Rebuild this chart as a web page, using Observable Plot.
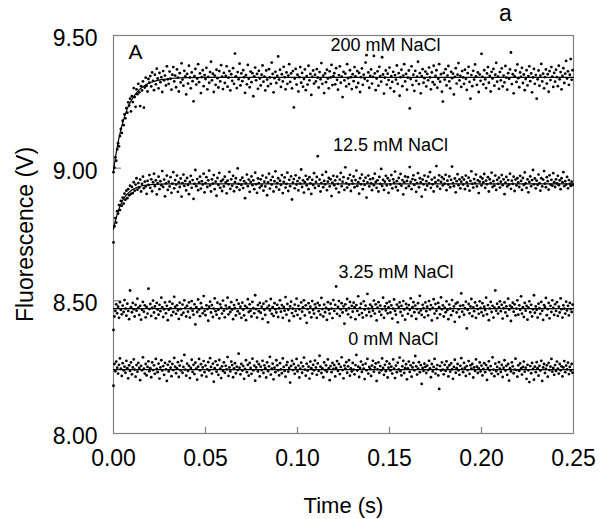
<!DOCTYPE html>
<html>
<head>
<meta charset="utf-8">
<script src="https://cdn.jsdelivr.net/npm/d3@7"></script>
<script src="https://cdn.jsdelivr.net/npm/@observablehq/plot@0.6"></script>
<style>
  html, body { margin: 0; padding: 0; background: #fff; }
  #chart svg { display: block; overflow: visible; }
</style>
</head>
<body>
<div id="chart"></div>
<script>
// ---- data ----
const dt = 0.0005; // sampling interval (s)

const nacl0 = [
8.180,8.262,8.235,8.271,8.248,8.226,8.259,8.283,8.244,8.217,8.265,8.238,8.252,8.229,8.274,8.246,8.208,8.257,8.236,8.268,
8.223,8.249,8.279,8.241,8.214,8.258,8.233,8.266,8.247,8.201,8.255,8.238,8.287,8.244,8.226,8.262,8.219,8.251,8.272,8.235,
8.246,8.212,8.268,8.239,8.257,8.225,8.281,8.243,8.231,8.263,8.207,8.249,8.276,8.237,8.254,8.221,8.266,8.242,8.198,8.259,
8.234,8.271,8.248,8.216,8.262,8.239,8.285,8.252,8.227,8.245,8.269,8.213,8.256,8.238,8.274,8.229,8.251,8.296,8.241,8.218,
8.263,8.236,8.255,8.209,8.247,8.278,8.232,8.259,8.224,8.267,8.244,8.203,8.252,8.281,8.238,8.261,8.219,8.249,8.273,8.231,
8.256,8.214,8.242,8.269,8.237,8.284,8.251,8.226,8.263,8.195,8.246,8.272,8.233,8.258,8.221,8.277,8.244,8.209,8.253,8.236,
8.268,8.229,8.255,8.242,8.288,8.217,8.249,8.234,8.271,8.258,8.212,8.245,8.265,8.227,8.252,8.239,8.301,8.248,8.223,8.262,
8.237,8.254,8.206,8.243,8.276,8.231,8.259,8.218,8.266,8.247,8.225,8.282,8.238,8.256,8.199,8.249,8.271,8.234,8.261,8.215,
8.252,8.239,8.274,8.228,8.257,8.246,8.211,8.268,8.235,8.253,8.289,8.222,8.244,8.263,8.204,8.248,8.231,8.276,8.257,8.238,
8.219,8.265,8.242,8.227,8.283,8.251,8.236,8.214,8.258,8.269,8.233,8.247,8.192,8.255,8.274,8.239,8.262,8.225,8.248,8.281,
8.234,8.256,8.211,8.244,8.267,8.229,8.253,8.286,8.241,8.218,8.263,8.237,8.252,8.207,8.271,8.246,8.226,8.259,8.238,8.275,
8.249,8.221,8.264,8.236,8.293,8.252,8.228,8.245,8.212,8.268,8.239,8.257,8.233,8.279,8.246,8.201,8.254,8.231,8.266,8.243,
8.258,8.215,8.247,8.273,8.236,8.262,8.224,8.251,8.287,8.239,8.208,8.256,8.244,8.269,8.229,8.253,8.276,8.218,8.245,8.234,
8.266,8.241,8.223,8.258,8.296,8.237,8.252,8.213,8.247,8.271,8.232,8.259,8.244,8.205,8.263,8.238,8.281,8.226,8.251,8.243,
8.217,8.256,8.274,8.233,8.249,8.264,8.198,8.242,8.268,8.229,8.254,8.238,8.283,8.247,8.221,8.259,8.235,8.272,8.211,8.248,
8.263,8.237,8.252,8.226,8.279,8.244,8.209,8.256,8.231,8.267,8.242,8.286,8.235,8.219,8.253,8.274,8.228,8.246,8.261,8.204,
8.245,8.271,8.232,8.257,8.214,8.249,8.266,8.238,8.292,8.253,8.222,8.244,8.269,8.231,8.258,8.187,8.247,8.236,8.263,8.251,
8.228,8.256,8.239,8.274,8.245,8.212,8.262,8.234,8.251,8.281,8.226,8.243,8.258,8.219,8.168,8.254,8.237,8.268,8.241,8.223,
8.259,8.236,8.272,8.248,8.215,8.257,8.233,8.264,8.242,8.206,8.251,8.278,8.229,8.246,8.262,8.238,8.221,8.255,8.284,8.243,
8.231,8.266,8.248,8.217,8.254,8.239,8.273,8.225,8.257,8.244,8.262,8.211,8.249,8.236,8.279,8.252,8.228,8.245,8.268,8.234,
8.256,8.219,8.243,8.265,8.231,8.258,8.202,8.247,8.272,8.238,8.254,8.226,8.287,8.241,8.216,8.263,8.235,8.251,8.224,8.269,
8.244,8.232,8.259,8.213,8.248,8.276,8.237,8.255,8.221,8.262,8.199,8.246,8.234,8.268,8.253,8.227,8.241,8.282,8.239,8.214,
8.257,8.236,8.264,8.245,8.222,8.251,8.271,8.233,8.248,8.206,8.259,8.238,8.194,8.254,8.227,8.266,8.243,8.203,8.252,8.231,
8.269,8.246,8.218,8.255,8.237,8.274,8.198,8.249,8.262,8.228,8.243,8.257,8.214,8.266,8.239,8.252,8.281,8.233,8.247,8.221,
8.258,8.236,8.271,8.244,8.226,8.262,8.238,8.253,8.215,8.249,8.273,8.231,8.256,8.242,8.267,8.224,8.251,8.237,8.262,8.229
];

const nacl3 = [
8.390,8.441,8.462,8.487,8.453,8.478,8.436,8.495,8.466,8.449,8.482,8.458,8.503,8.471,8.444,8.489,8.462,8.431,8.539,8.476,
8.457,8.492,8.468,8.441,8.485,8.463,8.508,8.474,8.447,8.481,8.429,8.466,8.496,8.459,8.483,8.438,8.477,8.452,8.546,8.469,
8.488,8.443,8.473,8.501,8.456,8.479,8.434,8.492,8.467,8.448,8.485,8.461,8.512,8.476,8.439,8.468,8.494,8.453,8.481,8.427,
8.466,8.497,8.472,8.445,8.489,8.458,8.515,8.477,8.451,8.483,8.464,8.432,8.493,8.469,8.447,8.486,8.455,8.502,8.473,8.441,
8.481,8.459,8.494,8.437,8.472,8.499,8.463,8.448,8.487,8.411,8.476,8.458,8.505,8.467,8.442,8.491,8.474,8.453,8.518,8.462,
8.446,8.483,8.469,8.425,8.478,8.497,8.456,8.484,8.439,8.471,8.509,8.461,8.448,8.493,8.466,8.434,8.487,8.474,8.452,8.501,
8.463,8.438,8.482,8.471,8.512,8.449,8.476,8.458,8.495,8.467,8.431,8.484,8.472,8.445,8.503,8.461,8.489,8.452,8.478,8.436,
8.493,8.466,8.445,8.481,8.427,8.474,8.506,8.458,8.487,8.463,8.441,8.496,8.472,8.453,8.521,8.469,8.437,8.484,8.461,8.492,
8.455,8.478,8.432,8.489,8.466,8.447,8.498,8.473,8.419,8.482,8.464,8.507,8.451,8.476,8.443,8.491,8.468,8.456,8.485,8.439,
8.472,8.502,8.459,8.484,8.436,8.477,8.463,8.514,8.448,8.488,8.466,8.425,8.479,8.497,8.454,8.471,8.442,8.486,8.462,8.508,
8.447,8.481,8.468,8.433,8.494,8.459,8.476,8.502,8.445,8.483,8.417,8.469,8.491,8.456,8.478,8.438,8.499,8.465,8.452,8.487,
8.474,8.436,8.492,8.461,8.483,8.448,8.511,8.469,8.441,8.486,8.457,8.473,8.428,8.495,8.466,8.452,8.489,8.471,8.435,8.503,
8.462,8.485,8.554,8.451,8.477,8.499,8.443,8.468,8.491,8.456,8.479,8.414,8.487,8.464,8.507,8.449,8.472,8.496,8.438,8.481,
8.459,8.493,8.476,8.431,8.484,8.462,8.517,8.447,8.473,8.489,8.454,8.437,8.498,8.467,8.482,8.445,8.526,8.471,8.458,8.486,
8.442,8.478,8.463,8.501,8.452,8.487,8.426,8.474,8.495,8.459,8.482,8.447,8.469,8.512,8.436,8.479,8.464,8.491,8.453,8.475,
8.497,8.456,8.483,8.433,8.471,8.505,8.462,8.448,8.486,8.419,8.477,8.494,8.458,8.481,8.444,8.499,8.467,8.429,8.488,8.473,
8.451,8.484,8.466,8.509,8.443,8.476,8.495,8.457,8.482,8.432,8.469,8.491,8.455,8.519,8.464,8.447,8.485,8.472,8.438,8.494,
8.461,8.478,8.445,8.499,8.467,8.484,8.426,8.473,8.506,8.452,8.488,8.463,8.435,8.492,8.476,8.449,8.513,8.468,8.483,8.441,
8.474,8.457,8.498,8.465,8.431,8.486,8.471,8.446,8.503,8.462,8.479,8.421,8.489,8.456,8.494,8.468,8.439,8.481,8.528,8.459,
8.483,8.448,8.472,8.497,8.396,8.466,8.488,8.453,8.479,8.507,8.442,8.475,8.461,8.494,8.436,8.482,8.469,8.451,8.498,8.473,
8.457,8.491,8.444,8.478,8.465,8.512,8.449,8.484,8.427,8.471,8.496,8.458,8.481,8.437,8.474,8.539,8.463,8.489,8.452,8.476,
8.498,8.461,8.485,8.433,8.472,8.494,8.456,8.479,8.443,8.508,8.467,8.482,8.424,8.476,8.493,8.459,8.487,8.445,8.471,8.502,
8.448,8.483,8.466,8.517,8.452,8.476,8.439,8.492,8.463,8.481,8.429,8.474,8.498,8.457,8.485,8.441,8.468,8.521,8.455,8.479,
8.466,8.437,8.489,8.472,8.451,8.496,8.463,8.428,8.484,8.477,8.511,8.446,8.469,8.492,8.434,8.481,8.458,8.502,8.473,8.447,
8.487,8.462,8.495,8.443,8.478,8.456,8.509,8.468,8.437,8.483,8.471,8.452,8.497,8.464,8.481,8.445,8.492,8.469,8.458,8.486
];

const nacl12 = [
8.720,8.781,8.812,8.795,8.838,8.829,8.861,8.842,8.877,8.858,8.889,8.866,8.904,8.881,8.915,8.887,8.921,8.898,8.934,8.903,
8.929,8.906,8.947,8.915,8.938,8.962,8.919,8.944,8.927,8.957,8.912,8.941,8.968,8.924,8.949,8.931,8.903,8.952,8.937,8.974,
8.926,8.958,8.913,8.947,8.979,8.932,8.954,8.901,8.944,8.968,8.921,8.951,8.936,8.989,8.929,8.957,8.894,8.943,8.972,8.918,
8.949,8.931,8.966,8.907,8.942,8.985,8.924,8.955,8.938,8.972,8.911,8.947,8.929,8.961,8.893,8.944,8.976,8.933,8.952,8.916,
8.963,8.937,8.902,8.948,8.971,8.926,8.955,8.884,8.941,8.993,8.932,8.959,8.917,8.946,8.968,8.923,8.951,8.938,8.979,8.909,
8.944,8.966,8.929,8.954,8.991,8.935,8.912,8.958,8.942,8.974,8.921,8.949,8.896,8.963,8.937,8.982,8.926,8.951,8.914,8.957,
8.931,8.968,8.946,8.905,8.953,8.939,8.986,8.922,8.958,8.934,8.971,8.913,8.947,8.962,8.928,8.999,8.941,8.918,8.955,8.937,
8.964,8.925,8.951,8.887,8.943,8.976,8.932,8.957,8.911,8.948,8.969,8.936,8.954,8.921,8.983,8.939,8.907,8.961,8.944,8.927,
8.958,8.934,8.972,8.915,8.949,8.931,8.964,8.898,8.946,8.979,8.923,8.955,8.938,8.967,8.912,8.951,8.988,8.929,8.944,8.962,
8.919,8.953,8.937,8.974,8.906,8.948,8.965,8.927,8.941,8.983,8.914,8.956,8.932,8.969,8.882,8.945,8.959,8.924,8.973,8.938,
8.951,8.916,8.963,8.942,8.995,8.929,8.954,8.908,8.947,8.971,8.935,8.958,8.921,8.966,8.943,8.903,8.956,8.937,8.981,8.926,
8.948,8.967,9.045,8.933,8.957,8.912,8.944,8.975,8.928,8.952,8.939,8.986,8.917,8.949,8.963,8.931,8.958,8.895,8.945,8.971,
8.936,8.954,8.923,8.968,8.941,8.909,8.957,8.982,8.932,8.949,8.966,8.918,9.003,8.944,8.927,8.961,8.938,8.975,8.914,8.953,
8.942,8.969,8.928,8.955,8.991,8.933,8.947,8.904,8.962,8.939,8.976,8.921,8.952,8.937,8.964,8.889,8.946,8.972,8.931,8.958,
8.943,8.917,8.961,8.936,8.979,8.948,8.926,8.954,8.912,8.967,8.941,8.997,8.933,8.956,8.918,8.949,8.971,8.935,8.962,8.907,
8.953,8.938,8.974,8.924,8.958,8.945,8.987,8.929,8.951,8.916,8.963,8.941,8.978,8.934,8.955,8.901,8.947,8.969,8.925,8.952,
8.966,8.932,9.004,8.948,8.921,8.959,8.973,8.937,8.955,8.911,8.944,8.981,8.928,8.962,8.946,8.893,8.957,8.939,8.972,8.919,
8.951,8.934,8.968,8.943,8.985,8.926,8.957,8.939,8.912,8.964,8.947,9.008,8.931,8.954,8.973,8.922,8.948,8.966,8.935,8.959,
8.942,8.975,8.917,8.953,8.938,8.969,8.928,8.956,9.006,8.944,8.932,8.961,8.909,8.951,8.977,8.936,8.958,8.924,8.949,8.965,
8.938,8.957,8.921,8.972,8.946,8.933,8.964,8.915,8.952,8.988,8.941,8.927,8.959,8.944,8.976,8.931,8.954,8.906,8.949,8.967,
8.935,8.961,8.947,8.978,8.926,8.953,8.939,8.966,8.912,8.958,8.944,8.983,8.929,8.951,8.934,8.972,8.918,8.956,8.941,8.964,
8.927,8.949,8.974,8.936,8.958,8.902,8.945,8.967,8.931,8.955,8.938,8.979,8.922,8.953,8.941,8.968,8.914,8.957,8.935,8.962,
8.946,8.929,8.971,8.952,8.918,8.963,8.937,8.984,8.943,8.926,8.958,8.909,8.948,8.969,8.932,8.955,8.993,8.939,8.961,8.924,
8.953,8.937,8.976,8.944,8.915,8.962,8.931,8.957,8.989,8.942,8.928,8.966,8.951,8.919,8.973,8.938,8.956,8.934,8.981,8.947,
8.929,8.958,8.943,8.971,8.936,8.954,8.921,8.962,8.947,8.985,8.932,8.951,8.938,8.967,8.924,8.955,8.941,8.933,8.949,8.937
];

const nacl200 = [
8.985,9.002,9.041,9.028,9.071,9.094,9.082,9.121,9.148,9.133,9.179,9.162,9.203,9.188,9.226,9.209,9.248,9.236,9.262,9.214,
9.271,9.249,9.302,9.268,9.231,9.297,9.279,9.318,9.286,9.234,9.309,9.293,9.327,9.228,9.304,9.341,9.311,9.289,9.336,9.322,
9.347,9.308,9.361,9.329,9.294,9.352,9.316,9.375,9.338,9.301,9.359,9.324,9.343,9.287,9.366,9.331,9.349,9.312,9.384,9.335,
9.318,9.364,9.337,9.296,9.352,9.381,9.327,9.349,9.305,9.372,9.341,9.289,9.358,9.323,9.395,9.334,9.311,9.367,9.346,9.278,
9.355,9.319,9.386,9.342,9.301,9.361,9.328,9.252,9.347,9.374,9.315,9.338,9.392,9.324,9.357,9.283,9.343,9.369,9.309,9.351,
9.336,9.378,9.297,9.344,9.322,9.362,9.401,9.331,9.356,9.287,9.349,9.314,9.371,9.339,9.304,9.366,9.327,9.388,9.345,9.298,
9.359,9.321,9.348,9.384,9.307,9.341,9.366,9.293,9.354,9.329,9.377,9.318,9.432,9.346,9.302,9.362,9.335,9.394,9.312,9.357,
9.328,9.369,9.343,9.284,9.351,9.316,9.389,9.337,9.305,9.364,9.324,9.358,9.271,9.346,9.379,9.331,9.355,9.299,9.367,9.338,
9.312,9.352,9.387,9.326,9.345,9.293,9.368,9.334,9.309,9.373,9.342,9.318,9.398,9.355,9.286,9.339,9.363,9.321,9.348,9.421,
9.334,9.371,9.306,9.354,9.327,9.382,9.343,9.297,9.361,9.318,9.349,9.392,9.325,9.357,9.301,9.366,9.229,9.338,9.374,9.315,
9.352,9.289,9.343,9.381,9.322,9.359,9.307,9.336,9.372,9.294,9.347,9.315,9.386,9.331,9.355,9.276,9.344,9.368,9.319,9.352,
9.327,9.373,9.341,9.304,9.362,9.335,9.396,9.318,9.349,9.283,9.357,9.324,9.371,9.338,9.301,9.365,9.342,9.389,9.313,9.347,
9.358,9.316,9.377,9.333,9.296,9.351,9.384,9.322,9.345,9.268,9.363,9.331,9.356,9.308,9.392,9.339,9.317,9.369,9.343,9.298,
9.354,9.328,9.381,9.346,9.305,9.366,9.321,9.359,9.287,9.343,9.376,9.314,9.352,9.337,9.398,9.426,9.329,9.361,9.303,9.348,
9.372,9.319,9.344,9.423,9.357,9.294,9.338,9.365,9.311,9.382,9.347,9.326,9.418,9.353,9.281,9.341,9.368,9.315,9.356,9.332,
9.379,9.302,9.347,9.325,9.363,9.289,9.351,9.334,9.387,9.318,9.358,9.273,9.343,9.371,9.309,9.349,9.392,9.327,9.355,9.296,
9.341,9.368,9.225,9.336,9.384,9.313,9.352,9.291,9.367,9.329,9.345,9.401,9.317,9.358,9.282,9.347,9.373,9.322,9.339,9.364,
9.308,9.355,9.331,9.379,9.342,9.297,9.361,9.324,9.386,9.315,9.348,9.369,9.303,9.337,9.392,9.326,9.354,9.288,9.251,9.359,
9.334,9.373,9.312,9.349,9.385,9.327,9.301,9.363,9.339,9.356,9.278,9.344,9.377,9.319,9.352,9.396,9.331,9.348,9.306,9.366,
9.342,9.318,9.371,9.337,9.295,9.358,9.382,9.325,9.262,9.351,9.309,9.367,9.334,9.391,9.346,9.314,9.361,9.287,9.353,9.329,
9.431,9.344,9.316,9.369,9.335,9.302,9.357,9.381,9.322,9.348,9.289,9.363,9.338,9.374,9.311,9.352,9.397,9.326,9.345,9.299,
9.362,9.331,9.376,9.308,9.349,9.323,9.385,9.341,9.296,9.358,9.337,9.372,9.436,9.317,9.354,9.282,9.346,9.368,9.325,9.391,
9.339,9.305,9.361,9.344,9.378,9.321,9.353,9.294,9.336,9.369,9.312,9.347,9.384,9.328,9.357,9.286,9.342,9.374,9.318,9.351,
9.262,9.335,9.368,9.311,9.349,9.393,9.327,9.356,9.301,9.343,9.372,9.319,9.354,9.288,9.366,9.332,9.381,9.345,9.306,9.359,
9.326,9.371,9.343,9.309,9.386,9.335,9.362,9.297,9.348,9.377,9.321,9.356,9.404,9.338,9.365,9.314,9.352,9.411,9.333,9.369
];

// fitted curves
const fit200T = [0,0.001,0.002,0.003,0.004,0.005,0.006,0.007,0.008,0.009,0.010,0.012,0.014,0.016,0.018,0.020,0.023,0.026,0.030,0.035,0.040,0.050,0.25];
const fit200V = [8.990,9.038,9.079,9.114,9.145,9.172,9.194,9.215,9.232,9.247,9.259,9.280,9.296,9.307,9.316,9.323,9.329,9.334,9.337,9.340,9.341,9.342,9.342];
const fit12T = [0,0.001,0.002,0.003,0.004,0.005,0.006,0.007,0.008,0.010,0.012,0.014,0.016,0.020,0.025,0.030,0.25];
const fit12V = [8.770,8.801,8.826,8.847,8.864,8.878,8.890,8.899,8.906,8.918,8.925,8.931,8.934,8.938,8.940,8.941,8.941];
const fit3T = [0, 0.25];
const fit3V = [8.471, 8.471];
const fit0T = [0, 0.25];
const fit0V = [8.241, 8.241];

const seriesNames = ["0 mM NaCl", "3.25 mM NaCl", "12.5 mM NaCl", "200 mM NaCl"];
const labelT = [0.152, 0.1535, 0.1505, 0.1478];
const labelV = [8.354, 8.607, 9.0856, 9.4625];

const xTicks = [0, 0.05, 0.10, 0.15, 0.20, 0.25];
const yTicks = [8.00, 8.50, 9.00, 9.50];

// ---- build tables ----
const seriesValues = [nacl0, nacl3, nacl12, nacl200];
const points = seriesValues.flatMap((vals, s) =>
  vals.map((v, i) => ({series: seriesNames[s], t: i * dt, v})));
const fits = [[fit0T, fit0V], [fit3T, fit3V], [fit12T, fit12V], [fit200T, fit200V]]
  .flatMap(([T, V], s) => T.map((t, i) => ({series: seriesNames[s], t, v: V[i]})));
const labels = seriesNames.map((name, i) => ({name, t: labelT[i], v: labelV[i]}));

const font = "'Liberation Sans', Arial, Helvetica, sans-serif";
const gray = "#808080";
const fmt = d3.format(".2f");

const chart = Plot.plot({
  width: 600,
  height: 519,
  marginLeft: 113,
  marginRight: 27,
  marginTop: 35,
  marginBottom: 86,
  style: {fontFamily: font, background: "#fff", color: "#000"},
  x: {domain: [0, 0.25]},
  y: {domain: [8, 9.5]},
  marks: [
    Plot.frame({stroke: gray, strokeWidth: 1.2}),
    Plot.ruleX(xTicks.slice(1, -1), {stroke: gray, strokeWidth: 1.2, insetTop: 392}),
    Plot.ruleY(yTicks.slice(1, -1), {stroke: gray, strokeWidth: 1.2, insetRight: 452}),
    Plot.axisX({ticks: xTicks, tickSize: 0, tickPadding: 16, tickFormat: fmt, fontSize: 23, label: null, fill: "#000"}),
    Plot.axisY({ticks: yTicks, tickSize: 0, tickPadding: 16, tickFormat: fmt, fontSize: 23, label: null, dy: 3, fill: "#000"}),
    Plot.line(fits, {x: "t", y: "v", z: "series", stroke: "#000", strokeWidth: 1.2}),
    Plot.dot(points, {x: "t", y: "v", r: 1.4, fill: "#000", stroke: null}),
    Plot.text(labels, {x: "t", y: "v", text: "name", fontSize: 18, fill: "#000", textAnchor: "middle", lineAnchor: "middle"}),
    Plot.text(["Fluorescence (V)"], {frameAnchor: "left", rotate: -90, dx: -88, fontSize: 23, fill: "#000", textAnchor: "middle", lineAnchor: "middle"}),
    Plot.text(["Time (s)"], {frameAnchor: "bottom", dy: 72, fontSize: 22, fill: "#000", textAnchor: "middle", lineAnchor: "middle"}),
    Plot.text(["A"], {frameAnchor: "top-left", dx: 22, dy: 17, fontSize: 21, fill: "#000", textAnchor: "middle", lineAnchor: "middle"}),
    Plot.text(["a"], {frameAnchor: "top-right", dx: -68, dy: -22, fontSize: 23, fill: "#000", textAnchor: "middle", lineAnchor: "middle"})
  ]
});
document.getElementById("chart").appendChild(chart);
</script>
</body>
</html>
